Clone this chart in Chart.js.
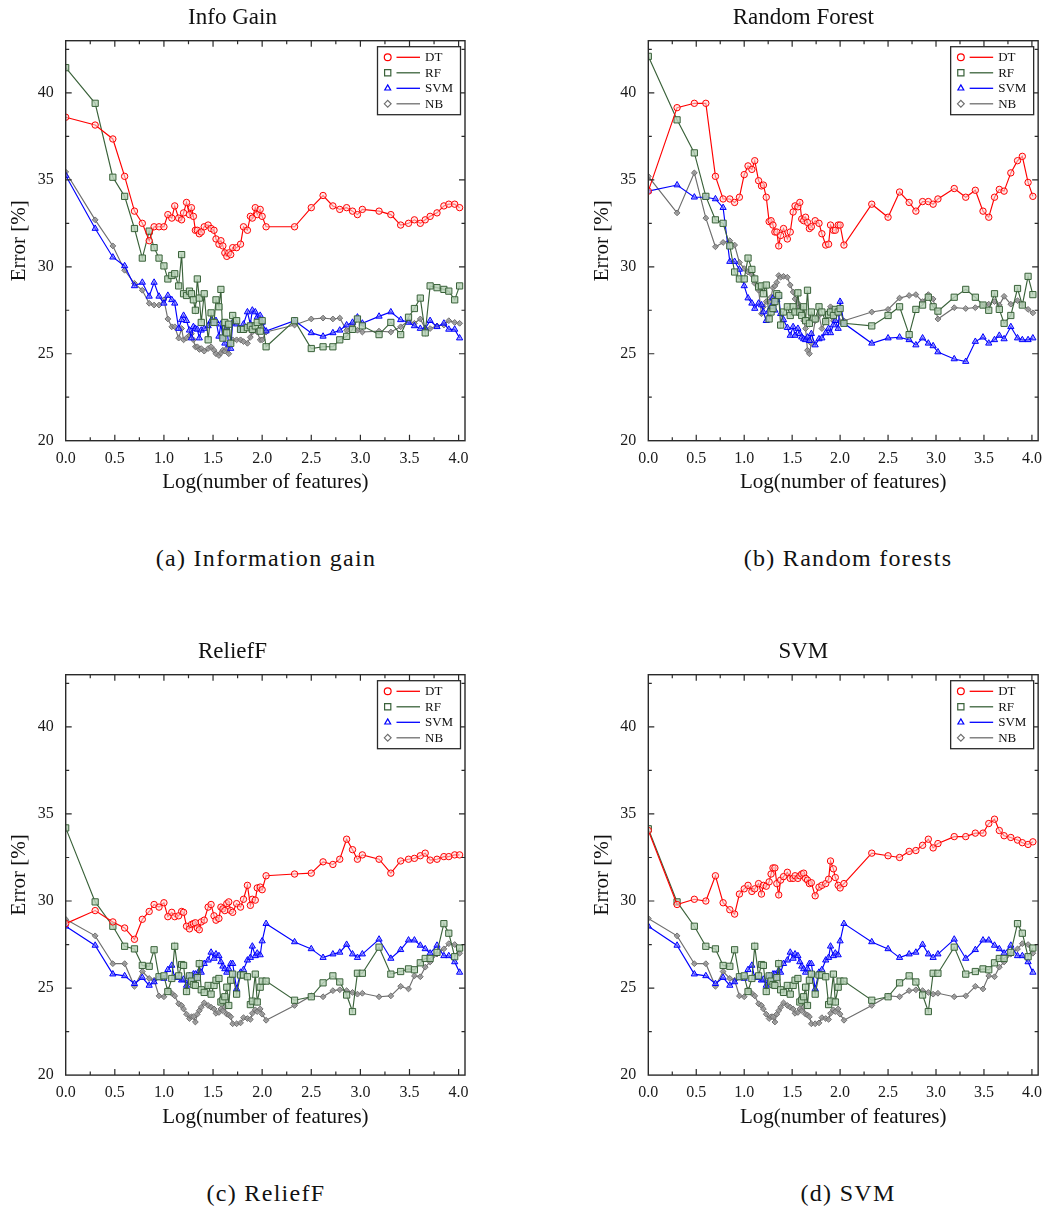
<!DOCTYPE html>
<html><head><meta charset="utf-8">
<script src="https://cdn.jsdelivr.net/npm/chart.js@4.4.0/dist/chart.umd.min.js"></script>
<style>
html,body{margin:0;padding:0;background:#fff;width:1050px;height:1207px;overflow:hidden;}
.wrap{position:absolute;}
.cap{position:absolute;font-family:'Liberation Serif','Times New Roman',serif;font-size:24px;color:#111;letter-spacing:1.3px;transform:translate(-50%,-50%);white-space:nowrap;line-height:1;}
</style></head><body>
<div class="wrap" style="left:0;top:0"><canvas id="ca" width="490" height="520"></canvas></div>
<div class="wrap" style="left:560px;top:0"><canvas id="cb" width="490" height="520"></canvas></div>
<div class="wrap" style="left:0;top:633.6px"><canvas id="cc" width="490" height="520"></canvas></div>
<div class="wrap" style="left:560px;top:633.6px"><canvas id="cd" width="490" height="520"></canvas></div>
<div class="cap" style="left:266px;top:558px">(a) Information gain</div>
<div class="cap" style="left:848px;top:558px">(b) Random forests</div>
<div class="cap" style="left:266px;top:1193px">(c) ReliefF</div>
<div class="cap" style="left:848px;top:1193px">(d) SVM</div>
<script>
// ---------- data ----------
const seriesNames = ['DT', 'RF', 'SVM', 'NB'];
const xTicks = [0, 0.5, 1.0, 1.5, 2.0, 2.5, 3.0, 3.5, 4.0];
const yTicks = [20, 25, 30, 35, 40];
// log10(number of features) positions shared by all curves
const xLog = [
  0, 0.30, 0.48, 0.60, 0.70, 0.78, 0.85, 0.90, 0.95,
  1.00, 1.04, 1.08, 1.11, 1.15, 1.18, 1.20, 1.23, 1.26, 1.28, 1.30, 1.32, 1.34, 1.36, 1.38,
  1.41, 1.45, 1.48, 1.51, 1.53, 1.56, 1.58, 1.60, 1.62, 1.64, 1.66, 1.68, 1.70,
  1.74, 1.78, 1.81, 1.85, 1.88, 1.90, 1.93, 1.95, 1.98, 2.00,
  2.04, 2.33, 2.50, 2.62, 2.72, 2.79, 2.86, 2.92, 2.97, 3.02,
  3.19, 3.31, 3.41, 3.49, 3.55, 3.61, 3.66, 3.71, 3.78, 3.85, 3.90, 3.96, 4.01];

// (a) Info Gain
const igDT = [38.6, 38.15, 37.35, 35.2, 33.2, 32.5, 31.5, 32.3, 32.3,
  32.3, 33.0, 32.8, 33.5, 32.8, 32.7, 33.1, 33.7, 33.0, 33.4, 32.9, 32.1, 32.1, 31.9, 32.0,
  32.3, 32.4, 32.2, 32.1, 31.6, 31.3, 31.5, 31.2, 30.8, 30.6, 30.8, 30.7, 31.1,
  31.1, 31.3, 32.3, 32.1, 32.9, 32.8, 33.4, 33.0, 33.3, 32.9,
  32.3, 32.3, 33.4, 34.1, 33.5, 33.3, 33.4, 33.2, 33.0, 33.3,
  33.2, 33.0, 32.4, 32.5, 32.7, 32.5, 32.7, 32.9, 33.1, 33.5, 33.6, 33.6, 33.4];
const igRF = [41.45, 39.4, 35.15, 34.05, 32.2, 30.5, 32.05, 31.1, 30.5,
  30.05, 29.3, 29.5, 29.6, 28.9, 30.7, 28.45, 28.35, 28.6, 28.45, 28.1, 27.5, 29.3, 28.2, 26.8,
  28.45, 25.8, 27.35, 26.8, 28.1, 27.7, 28.7, 25.9, 26.8, 26.2, 26.7, 25.6, 27.2,
  26.9, 26.4, 26.4, 26.5, 26.6, 26.4, 26.6, 26.8, 26.3, 26.9,
  25.4, 26.9, 25.3, 25.4, 25.4, 25.8, 26.0, 26.4, 27.0, 26.6,
  26.1, 26.8, 26.1, 27.1, 27.6, 28.2, 26.2, 28.9, 28.8, 28.7, 28.6, 28.1, 28.9];
const igSVM = [35.25, 32.2, 30.55, 30.05, 28.9, 29.1, 28.3, 29.1, 28.3,
  27.9, 28.35, 28.1, 27.9, 26.45, 26.95, 27.2, 26.9, 26.35, 25.9, 26.55, 26.45, 26.4, 25.9, 26.35,
  26.45, 26.6, 26.9, 26.8, 26.9, 26.0, 26.7, 25.95, 25.6, 26.5, 25.5, 25.3, 26.8,
  26.7, 26.4, 26.7, 27.4, 26.7, 27.5, 27.4, 27.1, 27.2, 26.8,
  26.3, 26.9, 26.2, 26.0, 26.2, 26.35, 26.65, 26.8, 27.1, 26.75,
  27.15, 27.4, 26.95, 26.8, 26.6, 26.45, 26.45, 26.9, 26.55, 26.75, 26.4, 26.4, 25.9];
const igNB = [35.45, 32.7, 31.2, 29.8, 29.05, 28.65, 27.9, 27.8, 27.8,
  28.1, 27.0, 26.55, 26.55, 25.9, 26.45, 25.8, 25.9, 26.05, 26.15, 25.8, 25.4, 25.4, 25.25, 25.3,
  25.15, 25.3, 25.4, 25.2, 25.0, 24.9, 25.05, 25.2, 25.15, 25.3, 25.0, 25.6, 25.8,
  25.8, 25.8, 25.7, 25.6, 25.95, 26.25, 26.35, 26.25, 25.8, 25.8,
  26.25, 26.65, 27.0, 27.05, 27.0, 27.05, 26.35, 26.65, 26.35, 26.25,
  26.3, 26.25, 26.55, 26.9, 26.75, 27.0, 26.45, 26.45, 26.6, 26.65, 26.9, 26.8, 26.75];

// (b) Random Forest
const rfDT = [34.35, 39.15, 39.4, 39.4, 35.2, 33.9, 33.9, 33.7, 34.0,
  35.3, 35.8, 35.6, 36.1, 34.95, 34.65, 34.7, 34.0, 32.6, 32.65, 32.4, 32.0, 32.0, 31.2, 31.8,
  32.2, 31.6, 32.0, 33.15, 33.5, 33.45, 33.7, 32.75, 32.65, 32.85, 32.55, 32.2, 32.3,
  32.65, 32.5, 31.9, 31.25, 31.3, 32.4, 32.1, 32.1, 32.4, 32.4,
  31.25, 33.6, 32.85, 34.3, 33.7, 33.2, 33.75, 33.75, 33.6, 33.9,
  34.5, 34.0, 34.4, 33.2, 32.85, 34.0, 34.45, 34.35, 35.4, 36.1, 36.35, 34.85, 34.05];
const rfRF = [42.1, 38.45, 36.55, 34.05, 32.7, 32.5, 31.2, 29.7, 29.3,
  29.3, 30.5, 29.85, 29.3, 28.85, 28.9, 28.45, 28.95, 27.0, 27.4, 27.6, 28.0, 28.45, 28.35, 26.65,
  27.4, 27.7, 27.2, 27.7, 27.4, 28.5, 27.4, 27.2, 27.7, 26.9, 28.65, 26.75, 27.4,
  27.0, 27.7, 27.4, 26.85, 27.25, 27.4, 27.2, 27.55, 27.4, 27.6,
  26.75, 26.6, 27.2, 27.7, 26.1, 27.55, 27.8, 28.25, 27.7, 27.45,
  28.25, 28.7, 28.25, 27.8, 27.5, 28.45, 27.55, 26.75, 27.2, 28.75, 27.8, 29.45, 28.4];
const rfSVM = [34.35, 34.7, 34.0, 34.0, 33.9, 33.4, 30.3, 30.3, 29.85,
  28.9, 28.2, 27.9, 27.6, 27.9, 27.8, 27.4, 26.9, 27.5, 27.7, 28.2, 27.5, 28.1, 28.3, 27.3,
  26.95, 26.5, 26.05, 26.55, 26.05, 26.45, 26.15, 25.95, 25.85, 25.8, 25.95, 25.75, 26.15,
  25.5, 25.85, 25.9, 26.2, 26.45, 26.2, 26.65, 26.9, 26.45, 28.0,
  26.75, 25.6, 25.9, 25.95, 25.8, 25.5, 25.9, 25.6, 25.45, 25.1,
  24.7, 24.55, 25.7, 25.95, 25.6, 25.8, 26.05, 25.85, 26.55, 25.9, 25.8, 25.8, 25.9];
const rfNB = [35.2, 33.1, 35.4, 32.8, 31.15, 31.4, 31.5, 31.25, 30.25,
  29.9, 29.7, 29.55, 29.05, 28.65, 27.3, 27.7, 28.0, 28.0, 28.25, 28.8, 28.9, 29.1, 29.5, 29.4,
  29.45, 29.4, 28.95, 28.55, 28.15, 27.9, 27.7, 27.4, 26.9, 26.45, 25.2, 25.0, 25.6,
  26.9, 27.2, 26.45, 26.85, 27.4, 27.7, 26.9, 27.5, 27.3, 26.85,
  26.9, 27.4, 27.55, 28.2, 28.35, 28.4, 28.0, 28.4, 28.15, 27.0,
  27.65, 27.6, 27.65, 27.8, 27.85, 28.0, 27.8, 28.3, 27.85, 28.05, 27.85, 27.55, 27.35];

// (c) ReliefF
const rlDT = [28.7, 29.45, 28.8, 28.45, 27.8, 28.95, 29.4, 29.8, 29.65,
  29.9, 29.1, 29.35, 29.1, 29.15, 29.4, 29.35, 28.55, 28.4, 28.65, 28.7, 28.75, 28.45, 28.35, 28.8,
  28.9, 29.65, 29.8, 29.15, 28.9, 29.0, 29.65, 29.55, 29.45, 29.85, 29.95, 29.45, 29.35,
  29.85, 29.65, 30.1, 30.9, 29.75, 30.1, 30.05, 30.75, 30.8, 30.65,
  31.45, 31.55, 31.6, 32.25, 32.1, 32.4, 33.55, 32.95, 32.4, 32.65,
  32.4, 31.6, 32.3, 32.4, 32.45, 32.6, 32.75, 32.35, 32.4, 32.55, 32.55, 32.65, 32.65];
const rlRF = [34.2, 29.95, 28.55, 27.4, 27.25, 26.3, 26.25, 27.2, 25.65,
  25.7, 24.8, 25.55, 27.4, 25.7, 26.35, 26.3, 24.8, 25.7, 25.4, 25.2, 25.15, 25.6, 26.4, 24.9,
  24.75, 25.15, 24.65, 25.15, 25.45, 25.55, 24.2, 24.3, 24.5, 25.05, 24.0, 25.45, 25.8,
  24.65, 25.75, 25.75, 25.65, 24.05, 24.25, 25.8, 24.2, 25.05, 25.4,
  25.4, 24.3, 24.5, 25.3, 25.7, 25.35, 24.6, 23.65, 25.85, 25.85,
  27.35, 25.8, 25.95, 26.1, 26.05, 26.45, 26.7, 26.7, 27.05, 28.7, 28.15, 26.8, 27.3];
const rlSVM = [28.55, 27.45, 25.8, 25.7, 25.25, 25.6, 25.15, 25.35, 25.6,
  25.55, 26.05, 26.3, 25.6, 25.6, 25.45, 25.5, 25.15, 25.7, 25.55, 25.8, 25.8, 25.6, 26.0, 25.9,
  26.4, 26.6, 27.05, 26.7, 26.95, 26.85, 26.5, 26.25, 26.1, 25.9, 26.1, 26.4, 26.4,
  24.95, 25.9, 26.05, 26.6, 26.75, 27.4, 26.85, 27.0, 26.9, 27.7,
  28.7, 27.65, 27.25, 26.75, 26.95, 27.05, 27.5, 26.95, 26.75, 26.95,
  27.8, 26.7, 27.2, 27.75, 27.75, 27.45, 27.25, 27.0, 27.45, 26.85, 26.85, 26.5, 25.9];
const rlNB = [28.95, 28.0, 26.4, 26.4, 25.1, 25.95, 25.55, 25.45, 24.55,
  24.5, 24.9, 24.7, 24.55, 24.1, 24.0, 23.8, 23.5, 23.25, 23.35, 23.35, 23.05, 23.5, 23.7, 23.9,
  24.15, 24.0, 23.9, 23.8, 23.55, 23.6, 23.8, 23.7, 23.9, 23.5, 23.45, 23.35, 22.95,
  22.95, 23.0, 23.3, 23.25, 23.2, 23.55, 23.75, 23.65, 23.8, 23.5,
  23.15, 24.0, 24.55, 24.5, 24.85, 24.9, 24.85, 24.75, 24.65, 24.7,
  24.5, 24.55, 25.1, 24.95, 25.7, 25.65, 26.2, 26.5, 26.95, 27.25, 27.55, 27.5, 27.0];

// (d) SVM (RF, SVM and NB curves are drawn identical to panel (c) in the figure)
const svDT = [34.05, 29.8, 30.1, 30.0, 31.45, 29.9, 29.5, 29.25, 30.4,
  30.7, 30.9, 30.55, 30.7, 31.0, 30.4, 30.9, 30.85, 31.1, 31.55, 31.9, 31.9, 31.0, 30.35, 31.2,
  31.4, 31.65, 31.3, 31.3, 31.45, 31.3, 31.45, 31.55, 31.6, 31.3, 31.2, 31.0, 31.05,
  30.3, 30.8, 30.9, 31.0, 31.25, 32.3, 31.85, 31.35, 30.9, 30.75,
  31.0, 32.75, 32.6, 32.5, 32.85, 32.9, 33.2, 33.55, 33.05, 33.3,
  33.7, 33.7, 33.9, 33.9, 34.45, 34.7, 34.05, 33.75, 33.65, 33.5, 33.35, 33.25, 33.4];
const svRF = [34.15, 29.95, 28.55, 27.4, 27.25, 26.3, 26.25, 27.2, 25.65,
  25.7, 24.8, 25.55, 27.4, 25.7, 26.35, 26.3, 24.8, 25.7, 25.4, 25.2, 25.15, 25.6, 26.4, 24.9,
  24.75, 25.15, 24.65, 25.15, 25.45, 25.55, 24.2, 24.3, 24.5, 25.05, 24.0, 25.45, 25.8,
  24.65, 25.75, 25.75, 25.65, 24.05, 24.25, 25.8, 24.2, 25.05, 25.4,
  25.4, 24.3, 24.5, 25.3, 25.7, 25.35, 24.6, 23.65, 25.85, 25.85,
  27.35, 25.8, 25.95, 26.1, 26.05, 26.45, 26.7, 26.7, 27.05, 28.7, 28.15, 26.8, 27.3];
const svSVM = rlSVM.slice();
const svNB = [29.0, 28.0, 26.4, 26.4, 25.1, 25.95, 25.55, 25.45, 24.55,
  24.5, 24.9, 24.7, 24.55, 24.1, 24.0, 23.8, 23.5, 23.25, 23.35, 23.35, 23.05, 23.5, 23.7, 23.9,
  24.15, 24.0, 23.9, 23.8, 23.55, 23.6, 23.8, 23.7, 23.9, 23.5, 23.45, 23.35, 22.95,
  22.95, 23.0, 23.3, 23.25, 23.2, 23.55, 23.75, 23.65, 23.8, 23.5,
  23.15, 24.0, 24.55, 24.5, 24.85, 24.9, 24.85, 24.75, 24.65, 24.7,
  24.5, 24.55, 25.1, 24.95, 25.7, 25.65, 26.2, 26.5, 26.95, 27.25, 27.55, 27.5, 27.0];

// ---------- styles ----------
const SERIF = "'Liberation Serif','Times New Roman',serif";
Chart.defaults.font.family = SERIF;
const styles = [
  {borderColor:'#ff0000', pointStyle:'circle', pointRadius:3.2, pointBackgroundColor:'rgba(255,215,215,0.55)'},
  {borderColor:'#3a623a', pointStyle:'rect', pointRadius:4.4, pointBackgroundColor:'rgba(185,210,185,0.85)'},
  {borderColor:'#0000ff', pointStyle:'triangle', pointRadius:3.6, pointBackgroundColor:'rgba(110,110,255,0.6)'},
  {borderColor:'#6e6e6e', pointStyle:'rectRot', pointRadius:2.9, pointBackgroundColor:'rgba(150,150,150,0.85)'}
];

const framePlugin = {
  id:'frame',
  afterDraw(chart){
    const {ctx, chartArea:a, scales:{x, y}} = chart;
    ctx.save();
    ctx.strokeStyle = '#2a2a2a';
    ctx.lineWidth = 1.4;
    ctx.strokeRect(a.left, a.top, a.right - a.left, a.bottom - a.top);
    ctx.lineWidth = 1.2;
    ctx.beginPath();
    const xMinor = xTicks.slice(0, -1).map((v, i) => (v + xTicks[i + 1]) / 2);
    const yMinor = yTicks.map(v => v + 2.5).filter(v => v < y.max);
    const tickX = (vals, len) => vals.forEach(v => {
      const p = x.getPixelForValue(v);
      if (p <= a.left + 0.5 || p >= a.right - 0.5) return;
      ctx.moveTo(p, a.bottom); ctx.lineTo(p, a.bottom - len);
      ctx.moveTo(p, a.top); ctx.lineTo(p, a.top + len);
    });
    const tickY = (vals, len) => vals.forEach(v => {
      const p = y.getPixelForValue(v);
      if (p >= a.bottom - 0.5 || p <= a.top + 0.5) return;
      ctx.moveTo(a.left, p); ctx.lineTo(a.left + len, p);
      ctx.moveTo(a.right, p); ctx.lineTo(a.right - len, p);
    });
    tickX(xTicks, 6); tickX(xMinor, 3.5);
    tickY(yTicks, 6); tickY(yMinor, 3.5);
    ctx.stroke();
    ctx.restore();
  }
};

const legendPlugin = {
  id:'inlegend',
  afterDraw(chart){
    const {ctx, chartArea:a} = chart;
    const bw = 83, bh = 68;
    const bx = a.right - 4.5 - bw, by = a.top + 6;
    ctx.save();
    ctx.fillStyle = '#fff';
    ctx.fillRect(bx, by, bw, bh);
    ctx.strokeStyle = '#2a2a2a';
    ctx.lineWidth = 1.3;
    ctx.strokeRect(bx, by, bw, bh);
    chart.data.datasets.forEach((ds, i) => {
      const yy = by + 10.6 + i * 15.5;
      ctx.strokeStyle = ds.borderColor;
      ctx.lineWidth = 1.3;
      ctx.beginPath(); ctx.moveTo(bx + 19, yy); ctx.lineTo(bx + 42.5, yy); ctx.stroke();
      ctx.fillStyle = '#fff';
      ctx.strokeStyle = ds.borderColor;
      ctx.lineWidth = 1.2;
      Chart.helpers.drawPoint(ctx, {pointStyle: ds.pointStyle, radius: ds.pointStyle === 'rect' ? 4.4 : 3.4, borderWidth: 1.2, rotation: 0}, bx + 10.2, yy);
      ctx.fillStyle = '#111';
      ctx.font = '13px ' + SERIF;
      ctx.textBaseline = 'middle';
      ctx.textAlign = 'left';
      ctx.fillText(ds.label, bx + 47.5, yy + 0.5);
    });
    ctx.restore();
  }
};

function makePanel(id, title, series, box){
  const datasets = series.map((vals, i) => Object.assign({
    label: seriesNames[i],
    data: xLog.map((x, j) => ({x: x, y: vals[j]})),
    borderWidth: 1.15,
    pointBorderWidth: 1,
    pointBorderColor: styles[i].borderColor,
    tension: 0,
    fill: false
  }, styles[i]));
  const tickFont = {family: SERIF, size: 16, lineHeight: 1.2};
  const titleFont = {family: SERIF, size: 21, lineHeight: 1.2};
  new Chart(document.getElementById(id), {
    type: 'line',
    data: {datasets: datasets},
    options: {
      responsive: false,
      animation: false,
      events: [],
      layout: {padding: {left: 0, right: box.w - box.right, top: 0, bottom: 0}},
      plugins: {
        legend: {display: false},
        tooltip: {enabled: false},
        title: {display: true, text: title, color: '#111',
          font: {family: SERIF, size: 23, weight: 'normal', lineHeight: 1.2},
          padding: {top: 4.4, bottom: box.top - 27.6 - 4.4}}
      },
      scales: {
        x: {
          type: 'linear', min: 0, max: 4.065,
          grid: {display: false, drawTicks: false},
          border: {display: false},
          afterBuildTicks: s => { s.ticks = xTicks.map(v => ({value: v})); },
          afterFit: s => { s.height = box.h - box.bottom; },
          ticks: {padding: 8, font: tickFont, color: '#1a1a1a', maxRotation: 0, autoSkip: false,
                  callback: v => Number(v).toFixed(1)},
          title: {display: true, text: 'Log(number of features)', color: '#111', font: titleFont,
                  padding: {top: 0, bottom: box.h - (box.bottom + 42) - 12.6}}
        },
        y: {
          type: 'linear', min: 20, max: 43,
          grid: {display: false, drawTicks: false},
          border: {display: false},
          afterBuildTicks: s => { s.ticks = yTicks.map(v => ({value: v})); },
          afterFit: s => { s.width = box.left; },
          ticks: {padding: 12, font: tickFont, color: '#1a1a1a', autoSkip: false,
                  callback: v => String(v)},
          title: {display: true, text: 'Error [%]', color: '#111', font: titleFont,
                  padding: {top: box.left - 46 - 12.6, bottom: 0}}
        }
      }
    },
    plugins: [framePlugin, legendPlugin]
  });
}

makePanel('ca', 'Info Gain', [igDT, igRF, igSVM, igNB], {w:490, h:520, left:65.7, right:465, top:40.7, bottom:440.7});
makePanel('cb', 'Random Forest', [rfDT, rfRF, rfSVM, rfNB], {w:490, h:520, left:88.3, right:486.7, top:40.7, bottom:440.7});
makePanel('cc', 'ReliefF', [rlDT, rlRF, rlSVM, rlNB], {w:490, h:520, left:65.7, right:465, top:40.7, bottom:441.1});
makePanel('cd', 'SVM', [svDT, svRF, svSVM, svNB], {w:490, h:520, left:88.3, right:486.7, top:40.7, bottom:441.1});
</script>
</body></html>
